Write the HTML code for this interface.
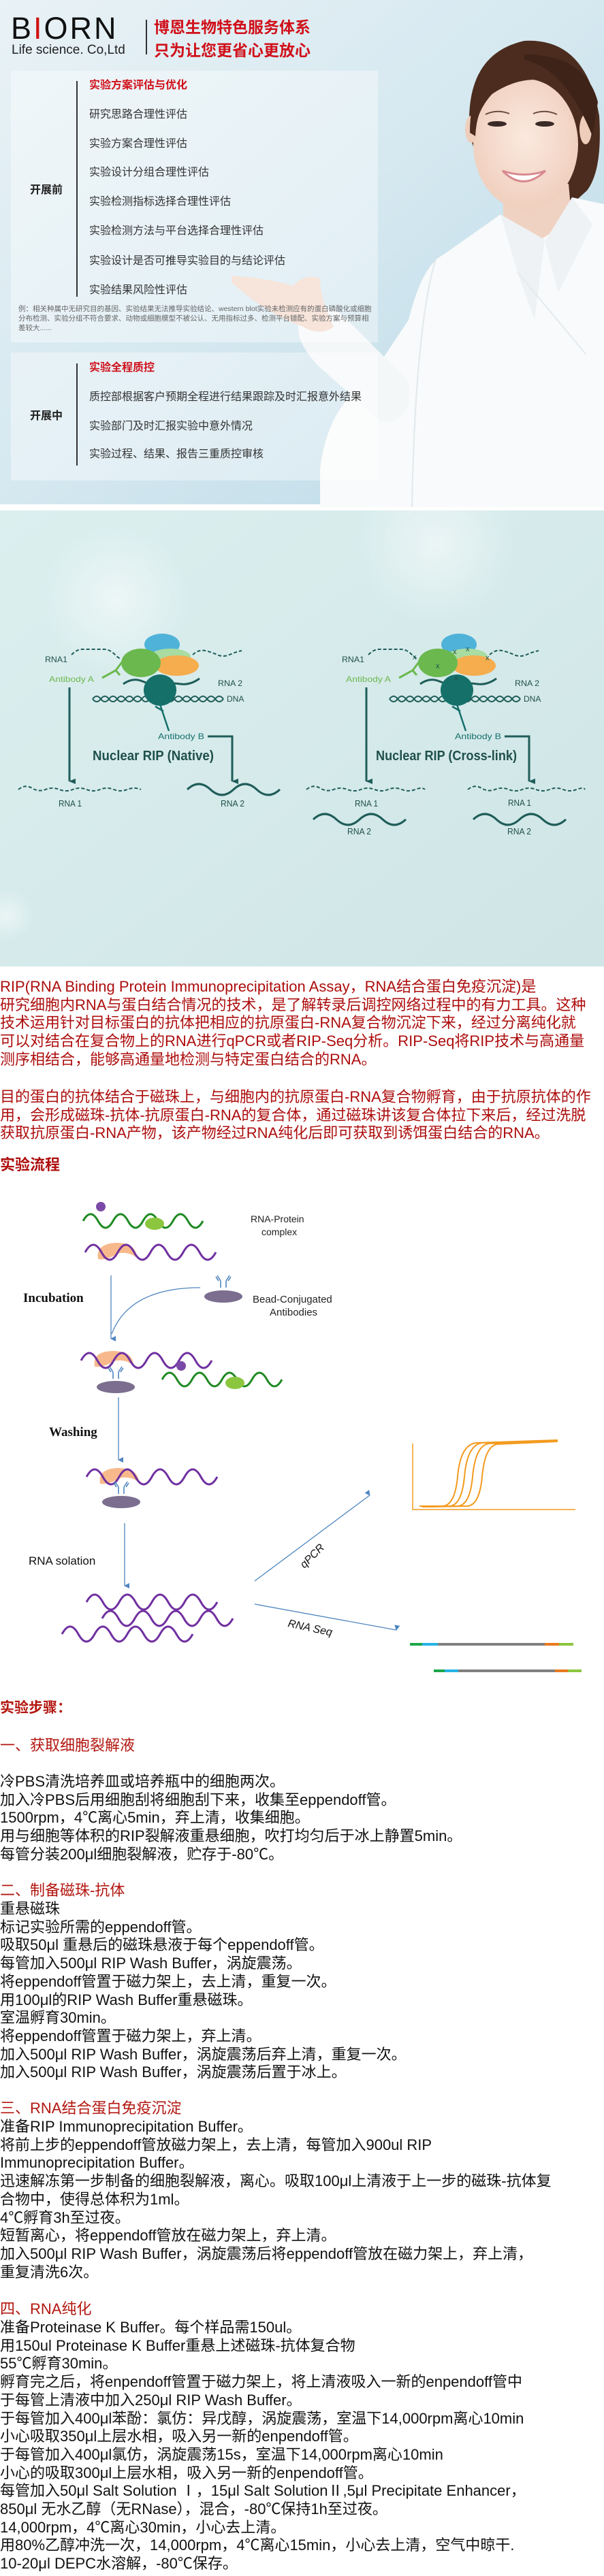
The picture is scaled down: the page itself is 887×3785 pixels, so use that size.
<!DOCTYPE html>
<html><head><meta charset="utf-8">
<style>
*{margin:0;padding:0;box-sizing:border-box}
body{width:887px;height:3785px;position:relative;background:#fff;font-family:"Liberation Sans","Noto Sans CJK SC",sans-serif;overflow:hidden}
.abs{position:absolute;white-space:nowrap}
.p{position:absolute;left:0;font-size:22px;line-height:26.7px;white-space:nowrap;color:#111}
.red{color:#ad0d0d}
.h{color:#b3160f}
.panel{position:absolute;background:rgba(255,255,255,0.38)}
.it{position:absolute;left:131px;font-size:16px;color:#333;white-space:nowrap;line-height:20px}
</style></head><body>

<!-- HEADER -->
<svg class="abs" style="left:0;top:0" width="887" height="750" viewBox="0 0 887 750">
<defs>
<linearGradient id="hb" x1="0" y1="0" x2="1" y2="1">
<stop offset="0" stop-color="#e9f2f6"/><stop offset="0.5" stop-color="#d5e8f0"/><stop offset="1" stop-color="#b9d9e6"/>
</linearGradient>
<radialGradient id="fs" cx="0.5" cy="0.45" r="0.6"><stop offset="0" stop-color="#fbe9df"/><stop offset="1" stop-color="#efcdbb"/></radialGradient>
</defs>
<rect width="887" height="741" fill="url(#hb)"/>
<rect y="741" width="887" height="9" fill="#fff"/>
<!-- hair back -->
<path d="M690,200 Q680,80 770,60 Q860,55 880,170 Q885,250 862,280 L840,300 L700,230 Z" fill="#4b2c1f"/>
<!-- neck -->
<path d="M738,270 L835,270 L842,350 L740,350 Z" fill="#f0d2c2"/>
<!-- face -->
<ellipse cx="772" cy="212" rx="77" ry="96" fill="url(#fs)"/>
<ellipse cx="692" cy="190" rx="9" ry="20" fill="#efcdbb"/>
<ellipse cx="860" cy="190" rx="9" ry="22" fill="#efcdbb"/>
<!-- hair fringe -->
<path d="M690,195 Q690,95 770,85 Q850,80 872,165 Q860,118 800,118 Q760,112 720,140 Q700,160 698,200 Z" fill="#4b2c1f"/>
<path d="M770,88 Q830,100 870,200 L878,150 Q860,80 770,80 Z" fill="#3e2318"/>
<!-- eyes -->
<ellipse cx="730" cy="182" rx="14" ry="4" fill="#3a2a25"/>
<ellipse cx="800" cy="182" rx="14" ry="4" fill="#3a2a25"/>
<path d="M713,168 Q730,160 748,167" stroke="#6b4a3a" stroke-width="2" fill="none"/>
<path d="M783,167 Q800,160 818,168" stroke="#6b4a3a" stroke-width="2" fill="none"/>
<!-- smile -->
<path d="M738,251 Q768,282 801,251 Q770,262 738,251 Z" fill="#fff" stroke="#d98a90" stroke-width="3"/>
<!-- coat -->
<path d="M470,745 L470,690 Q480,600 540,560 L600,470 Q620,390 650,375 L735,315 Q760,345 790,352 Q820,345 840,290 L887,300 L887,745 Z" fill="#f8fafb"/>
<path d="M735,315 L760,400 L785,470 L800,352 Z" fill="#eef2f4"/>
<path d="M840,290 L870,330 L820,430 L800,355 Z" fill="#eef2f4"/>
<path d="M640,380 Q610,480 605,745" stroke="#e2e8ec" stroke-width="2" fill="none"/>
<path d="M760,400 L860,520" stroke="#e4eaee" stroke-width="2" fill="none"/>
<!-- sleeve + hand -->
<path d="M440,470 Q470,430 510,470 L600,560 Q610,620 560,620 L470,540 Q430,500 440,470 Z" fill="#f4f7f8"/>
<path d="M340,405 Q400,410 430,420 Q450,400 470,410 Q470,440 490,480 Q470,495 445,480 Q390,460 340,415 Z" fill="#f2d3c3"/>
</svg>

<!-- logo -->
<div class="abs" style="left:16px;top:17px;font-size:45px;letter-spacing:3px;color:#111;line-height:50px;font-weight:400">B<span style="color:#d01010">I</span>ORN</div>
<div class="abs" style="left:17px;top:63px;font-size:19px;color:#222;line-height:22px">Life science. Co,Ltd</div>
<div class="abs" style="left:214px;top:29px;width:2px;height:51px;background:#333"></div>
<div class="abs" style="left:226px;top:24px;font-size:23px;font-weight:bold;color:#d0101a;line-height:28px;font-family:'Noto Sans CJK SC',sans-serif">博恩生物特色服务体系</div>
<div class="abs" style="left:226px;top:58px;font-size:23px;font-weight:bold;color:#d0101a;line-height:28px;font-family:'Noto Sans CJK SC',sans-serif">只为让您更省心更放心</div>

<!-- panels -->
<div class="panel" style="left:16px;top:104px;width:539px;height:399px"></div>
<div class="panel" style="left:16px;top:518px;width:539px;height:188px"></div>
<div class="abs" style="left:112px;top:119px;width:2px;height:317px;background:#333"></div>
<div class="abs" style="left:112px;top:534px;width:2px;height:150px;background:#333"></div>
<div class="abs" style="left:44px;top:265px;font-size:16px;font-weight:bold;color:#222">开展前</div>
<div class="abs" style="left:44px;top:597px;font-size:16px;font-weight:bold;color:#222">开展中</div>
<div class="it" style="top:116px;color:#d0101a;font-weight:bold">实验方案评估与优化</div>
<div class="it" style="top:159px">研究思路合理性评估</div>
<div class="it" style="top:202px">实验方案合理性评估</div>
<div class="it" style="top:244px">实验设计分组合理性评估</div>
<div class="it" style="top:287px">实验检测指标选择合理性评估</div>
<div class="it" style="top:330px">实验检测方法与平台选择合理性评估</div>
<div class="it" style="top:374px">实验设计是否可推导实验目的与结论评估</div>
<div class="it" style="top:417px">实验结果风险性评估</div>
<div class="abs" style="left:27px;top:447px;font-size:10.5px;line-height:14px;color:#666;white-space:normal;width:520px">例：相关种属中无研究目的基因、实验结果无法推导实验结论、western blot实验未检测应有的蛋白磷酸化或细胞分布检测、实验分组不符合要求、动物或细胞模型不被公认、无用指标过多、检测平台错配、实验方案与预算相差较大......</div>
<div class="it" style="top:531px;color:#d0101a;font-weight:bold">实验全程质控</div>
<div class="it" style="top:574px">质控部根据客户预期全程进行结果跟踪及时汇报意外结果</div>
<div class="it" style="top:617px">实验部门及时汇报实验中意外情况</div>
<div class="it" style="top:658px">实验过程、结果、报告三重质控审核</div>

<!-- RIP DIAGRAM -->
<svg class="abs" style="left:0;top:750px" width="887" height="670" viewBox="0 750 887 670" font-family="Liberation Sans, sans-serif">
<defs>
<linearGradient id="tb" x1="0" y1="0" x2="1" y2="1"><stop offset="0" stop-color="#dcefef"/><stop offset="1" stop-color="#cfe5e6"/></linearGradient>
<radialGradient id="sp"><stop offset="0" stop-color="#ffffff" stop-opacity="0.5"/><stop offset="1" stop-color="#ffffff" stop-opacity="0"/></radialGradient>
<marker id="ah" markerWidth="8" markerHeight="10" refX="4" refY="9" orient="auto-start-reverse" markerUnits="userSpaceOnUse" viewBox="0 0 8 10"><path d="M0,0 L8,0 L4,10 Z" fill="#1f5d59"/></marker>
<g id="left">
<path d="M105,962 q8,-8 16,-8 t16,0 t16,0 t16,8 t8,4" stroke="#1f5d59" stroke-width="2" fill="none" stroke-dasharray="5 3"/>
<path d="M283,962 q9,-8 18,-6 t18,6 t18,0 t18,-6" stroke="#1f5d59" stroke-width="2" fill="none" stroke-dasharray="5 3"/>
<path d="M136,1027 q6,-8 12,0 t12,0 t12,0 t12,0 t12,0 t12,0 t12,0 t12,0 t12,0 t12,0 t12,0 t12,0 t12,0 t12,0 t12,0 t12,0" stroke="#1f5d59" stroke-width="2" fill="none"/>
<path d="M136,1027 q6,8 12,0 t12,0 t12,0 t12,0 t12,0 t12,0 t12,0 t12,0 t12,0 t12,0 t12,0 t12,0 t12,0 t12,0 t12,0 t12,0" stroke="#1f5d59" stroke-width="2" fill="none"/>
<ellipse cx="238" cy="947" rx="26" ry="16" fill="#4fb3d9"/>
<ellipse cx="250" cy="965" rx="30" ry="12" fill="#a8dca0"/>
<ellipse cx="260" cy="978" rx="32" ry="15" fill="#f5ad4e"/>
<ellipse cx="207" cy="974" rx="29" ry="21" fill="#6bb84e"/>
<path d="M181,1005 q14,-10 28,-4 t28,4 t28,0 t28,-8" stroke="#1f5d59" stroke-width="3" fill="none"/>
<ellipse cx="235" cy="1014" rx="24" ry="23" fill="#15706a"/>
<path d="M182,969 L170,985 L150,996 M170,985 L176,992" stroke="#6bb84e" stroke-width="3" fill="none"/>
<path d="M235,1035 L248,1074 M240,1045 L228,1038" stroke="#15706a" stroke-width="2.5" fill="none"/>
<text x="66" y="973" font-size="12" fill="#1f4f4c" textLength="33" lengthAdjust="spacingAndGlyphs">RNA1</text>
<text x="72" y="1002" font-size="12" fill="#6bb84e" textLength="66" lengthAdjust="spacingAndGlyphs">Antibody A</text>
<text x="320" y="1008" font-size="12" fill="#1f4f4c" textLength="36" lengthAdjust="spacingAndGlyphs">RNA 2</text>
<text x="333" y="1031" font-size="12" fill="#1f4f4c">DNA</text>
<text x="232" y="1086" font-size="12" fill="#15706a" textLength="68" lengthAdjust="spacingAndGlyphs">Antibody B</text>
<line x1="102" y1="1010" x2="102" y2="1148" stroke="#1f5d59" stroke-width="3" marker-end="url(#ah)"/>
<path d="M305,1082 L341,1082 L341,1148" stroke="#1f5d59" stroke-width="3" fill="none" marker-end="url(#ah)"/>
</g>
</defs>
<rect x="0" y="750" width="887" height="670" fill="url(#tb)"/>
<circle cx="170" cy="880" r="110" fill="url(#sp)"/>
<circle cx="10" cy="1345" r="40" fill="url(#sp)"/>
<circle cx="640" cy="800" r="120" fill="url(#sp)"/>
<use href="#left"/>
<text x="136" y="1117" font-size="20" font-weight="bold" fill="#1f4f4c" textLength="178" lengthAdjust="spacingAndGlyphs">Nuclear RIP (Native)</text>
<path d="M27,1160 q10,-8 20,-2 t20,2 t20,0 t20,0 t20,0 t20,0 t20,0 t20,0 t20,0" stroke="#1f5d59" stroke-width="2" fill="none" stroke-dasharray="5 3"/>
<text x="86" y="1185" font-size="13" fill="#1f4f4c" textLength="34" lengthAdjust="spacingAndGlyphs">RNA 1</text>
<path d="M275,1160 q17,-16 34,0 t34,0 t34,0 t34,0" stroke="#1f5d59" stroke-width="3" fill="none"/>
<text x="324" y="1185" font-size="13" fill="#1f4f4c" textLength="35" lengthAdjust="spacingAndGlyphs">RNA 2</text>
<g transform="translate(436,0)"><use href="#left"/></g>
<g fill="#1f4f4c" font-size="11"><text x="606" y="969">x</text><text x="640" y="982">x</text><text x="665" y="961">x</text><text x="684" y="957">x</text><text x="713" y="970">x</text><text x="667" y="1000">x</text></g>
<text x="552" y="1117" font-size="20" font-weight="bold" fill="#1f4f4c" textLength="207" lengthAdjust="spacingAndGlyphs">Nuclear RIP (Cross-link)</text>
<path d="M450,1160 q10,-8 20,-2 t20,2 t20,0 t20,0 t20,0 t20,0 t20,0 t20,0 t14,0" stroke="#1f5d59" stroke-width="2" fill="none" stroke-dasharray="5 3"/>
<text x="521" y="1185" font-size="13" fill="#1f4f4c" textLength="34" lengthAdjust="spacingAndGlyphs">RNA 1</text>
<path d="M460,1204 q17,-16 34,0 t34,0 t34,0 t34,0" stroke="#1f5d59" stroke-width="3" fill="none"/>
<text x="510" y="1226" font-size="13" fill="#1f4f4c" textLength="35" lengthAdjust="spacingAndGlyphs">RNA 2</text>
<path d="M687,1160 q10,-8 20,-2 t20,2 t20,0 t20,0 t20,0 t20,0 t20,0 t20,0 t12,0" stroke="#1f5d59" stroke-width="2" fill="none" stroke-dasharray="5 3"/>
<text x="746" y="1184" font-size="13" fill="#1f4f4c" textLength="34" lengthAdjust="spacingAndGlyphs">RNA 1</text>
<path d="M695,1204 q17,-16 34,0 t34,0 t34,0 t34,0" stroke="#1f5d59" stroke-width="3" fill="none"/>
<text x="745" y="1226" font-size="13" fill="#1f4f4c" textLength="35" lengthAdjust="spacingAndGlyphs">RNA 2</text>
</svg>

<!-- INTRO TEXT -->
<div class="p red" style="top:1437px">RIP(RNA Binding Protein Immunoprecipitation Assay，RNA结合蛋白免疫沉淀)是<br>研究细胞内RNA与蛋白结合情况的技术，是了解转录后调控网络过程中的有力工具。这种<br>技术运用针对目标蛋白的抗体把相应的抗原蛋白-RNA复合物沉淀下来，经过分离纯化就<br>可以对结合在复合物上的RNA进行qPCR或者RIP-Seq分析。RIP-Seq将RIP技术与高通量<br>测序相结合，能够高通量地检测与特定蛋白结合的RNA。</div>
<div class="p red" style="top:1599px">目的蛋白的抗体结合于磁珠上，与细胞内的抗原蛋白-RNA复合物孵育，由于抗原抗体的作<br>用，会形成磁珠-抗体-抗原蛋白-RNA的复合体，通过磁珠讲该复合体拉下来后，经过洗脱<br>获取抗原蛋白-RNA产物，该产物经过RNA纯化后即可获取到诱饵蛋白结合的RNA。</div>
<div class="p red" style="top:1699px;font-weight:bold">实验流程</div>

<!-- FLOW DIAGRAM -->
<svg class="abs" style="left:0;top:1750px" width="887" height="720" viewBox="0 1750 887 720">
<defs>
<marker id="ba" markerWidth="8" markerHeight="8" refX="4" refY="7" orient="auto-start-reverse" markerUnits="userSpaceOnUse" viewBox="0 0 8 8"><path d="M0,0 L8,0 L4,8 Z" fill="#4f86c0"/></marker>
<g id="ab"><path d="M-4,-14 L-4,-4 M4,-14 L4,-4 M-4,-14 L-9,-22 M4,-14 L9,-22 M-7,-14 L-11,-20 M7,-14 L11,-20" stroke="#4f86c0" stroke-width="1.6" fill="none"/></g>
<path id="pw" d="M0,0 q12,-22 24,0 t24,0 t24,0 t24,0 t24,0 t24,0 t24,0 t24,0" stroke="#7030a0" stroke-width="3" fill="none"/>
<path id="gw" d="M0,0 q11,-20 22,0 t22,0 t22,0 t22,0 t22,0 t22,0 t22,0 t22,0" stroke="#1f8a23" stroke-width="3" fill="none"/>
</defs>
<g font-family="Liberation Sans, sans-serif">
<!-- complex -->
<use href="#gw" transform="translate(122,1794)"/>
<circle cx="148" cy="1773" r="7" fill="#7b4aa6"/>
<ellipse cx="227" cy="1798" rx="14" ry="9" fill="#8cc63f"/>
<path d="M144,1850 Q140,1828 170,1826 Q200,1826 201,1848 Q188,1838 172,1842 Q158,1852 144,1850 Z" fill="#f7b98b"/>
<use href="#pw" transform="translate(125,1840) scale(1,1)"/>
<text x="368" y="1796" font-size="14" fill="#222">RNA-Protein</text>
<text x="384" y="1815" font-size="14" fill="#222">complex</text>
<!-- incubation -->
<line x1="163" y1="1874" x2="163" y2="1967" stroke="#4f86c0" stroke-width="1.3" marker-end="url(#ba)"/>
<path d="M294,1892 Q190,1892 164,1960" stroke="#4f86c0" stroke-width="1.3" fill="none"/>
<text x="34" y="1913" font-size="19" font-weight="bold" font-family="Liberation Serif, serif" fill="#111">Incubation</text>
<ellipse cx="328" cy="1905" rx="28" ry="9" fill="#7b6e8e"/>
<use href="#ab" transform="translate(328,1896)"/>
<text x="371" y="1914" font-size="15" fill="#222">Bead-Conjugated</text>
<text x="396" y="1933" font-size="15" fill="#222">Antibodies</text>
<!-- after incubation -->
<path d="M139,2008 Q135,1986 165,1985 Q195,1985 196,2006 Q183,1996 167,2000 Q152,2010 139,2008 Z" fill="#f7b98b"/>
<use href="#pw" transform="translate(119,1999)"/>
<use href="#ab" transform="translate(170,2030)"/>
<ellipse cx="170" cy="2038" rx="28" ry="9" fill="#7b6e8e"/>
<use href="#gw" transform="translate(238,2027)"/>
<circle cx="266" cy="2007" r="7" fill="#7b4aa6"/>
<ellipse cx="345" cy="2032" rx="14" ry="9" fill="#8cc63f"/>
<!-- washing -->
<line x1="174" y1="2053" x2="174" y2="2145" stroke="#4f86c0" stroke-width="1.3" marker-end="url(#ba)"/>
<text x="72" y="2110" font-size="19" font-weight="bold" font-family="Liberation Serif, serif" fill="#111">Washing</text>
<path d="M147,2180 Q143,2158 173,2157 Q203,2157 204,2178 Q191,2168 175,2172 Q160,2182 147,2180 Z" fill="#f7b98b"/>
<use href="#pw" transform="translate(127,2170)"/>
<use href="#ab" transform="translate(178,2199)"/>
<ellipse cx="178" cy="2207" rx="28" ry="9" fill="#7b6e8e"/>
<!-- RNA isolation -->
<line x1="183" y1="2238" x2="183" y2="2330" stroke="#4f86c0" stroke-width="1.3" marker-end="url(#ba)"/>
<text x="42" y="2299" font-size="17" fill="#111">RNA solation</text>
<use href="#pw" transform="translate(127,2354)"/>
<use href="#pw" transform="translate(150,2378)"/>
<use href="#pw" transform="translate(91,2401)"/>
<!-- branches -->
<line x1="374" y1="2323" x2="543" y2="2197" stroke="#4f86c0" stroke-width="1.3" marker-end="url(#ba)"/>
<text x="0" y="0" font-size="16" font-style="italic" fill="#111" transform="translate(447,2305) rotate(-45)">qPCR</text>
<line x1="374" y1="2357" x2="582" y2="2395" stroke="#4f86c0" stroke-width="1.3" marker-end="url(#ba)"/>
<text x="0" y="0" font-size="16" font-style="italic" fill="#111" transform="translate(422,2390) rotate(12)">RNA Seq</text>
<!-- plot -->
<path d="M606,2121 L606,2218 L845,2218" stroke="#f39a1e" stroke-width="1.5" fill="none"/>
<g stroke="#f39a1e" stroke-width="2" fill="none">
<path d="M616,2213 L650,2213 Q668,2212 672,2170 Q676,2122 700,2120 L819,2116"/>
<path d="M620,2214 L660,2213 Q678,2212 682,2170 Q686,2123 708,2120 L819,2117"/>
<path d="M624,2214 L672,2213 Q690,2212 694,2170 Q698,2124 718,2121 L819,2117"/>
<path d="M628,2214 L686,2213 Q704,2212 708,2170 Q712,2125 730,2122 L819,2118"/>
</g>
<!-- seq bars -->
<g stroke-width="4">
<line x1="602" y1="2416" x2="620" y2="2416" stroke="#1fa64a"/><line x1="620" y1="2416" x2="643" y2="2416" stroke="#26b3e6"/><line x1="643" y1="2416" x2="800" y2="2416" stroke="#808080"/><line x1="800" y1="2416" x2="821" y2="2416" stroke="#e97a1f"/><line x1="821" y1="2416" x2="842" y2="2416" stroke="#8cc63f"/>
<line x1="637" y1="2455" x2="653" y2="2455" stroke="#1fa64a"/><line x1="653" y1="2455" x2="673" y2="2455" stroke="#26b3e6"/><line x1="673" y1="2455" x2="815" y2="2455" stroke="#808080"/><line x1="815" y1="2455" x2="834" y2="2455" stroke="#e97a1f"/><line x1="834" y1="2455" x2="854" y2="2455" stroke="#8cc63f"/>
</g>
</g>
</svg>

<!-- STEPS -->
<div class="p h" style="top:2497px;font-weight:bold;font-size:21px">实验步骤：</div>
<div class="p h" style="top:2552px">一、获取细胞裂解液</div>
<div class="p" style="top:2605px">冷PBS清洗培养皿或培养瓶中的细胞两次。<br>加入冷PBS后用细胞刮将细胞刮下来，收集至eppendoff管。<br>1500rpm，4℃离心5min，弃上清，收集细胞。<br>用与细胞等体积的RIP裂解液重悬细胞，吹打均匀后于冰上静置5min。<br>每管分装200μl细胞裂解液，贮存于-80℃。</div>
<div class="p h" style="top:2765px">二、制备磁珠-抗体</div>
<div class="p" style="top:2792px">重悬磁珠<br>标记实验所需的eppendoff管。<br>吸取50μl 重悬后的磁珠悬液于每个eppendoff管。<br>每管加入500μl RIP Wash Buffer，涡旋震荡。<br>将eppendoff管置于磁力架上，去上清，重复一次。<br>用100μl的RIP Wash Buffer重悬磁珠。<br>室温孵育30min。<br>将eppendoff管置于磁力架上，弃上清。<br>加入500μl RIP Wash Buffer，涡旋震荡后弃上清，重复一次。<br>加入500μl RIP Wash Buffer，涡旋震荡后置于冰上。</div>
<div class="p h" style="top:3085px">三、RNA结合蛋白免疫沉淀</div>
<div class="p" style="top:3112px">准备RIP Immunoprecipitation Buffer。<br>将前上步的eppendoff管放磁力架上，去上清，每管加入900ul RIP<br>Immunoprecipitation Buffer。<br>迅速解冻第一步制备的细胞裂解液，离心。吸取100μl上清液于上一步的磁珠-抗体复<br>合物中，使得总体积为1ml。<br>4℃孵育3h至过夜。<br>短暂离心，将eppendoff管放在磁力架上，弃上清。<br>加入500μl RIP Wash Buffer，涡旋震荡后将eppendoff管放在磁力架上，弃上清，<br>重复清洗6次。</div>
<div class="p h" style="top:3380px">四、RNA纯化</div>
<div class="p" style="top:3407px">准备Proteinase K Buffer。每个样品需150ul。<br>用150ul Proteinase K Buffer重悬上述磁珠-抗体复合物<br>55℃孵育30min。<br>孵育完之后，将enpendoff管置于磁力架上，将上清液吸入一新的enpendoff管中<br>于每管上清液中加入250μl RIP Wash Buffer。<br>于每管加入400μl苯酚：氯仿：异戊醇，涡旋震荡，室温下14,000rpm离心10min<br>小心吸取350μl上层水相，吸入另一新的enpendoff管。<br>于每管加入400μl氯仿，涡旋震荡15s，室温下14,000rpm离心10min<br>小心的吸取300μl上层水相，吸入另一新的enpendoff管。<br>每管加入50μl Salt Solution Ⅰ，15μl Salt SolutionⅡ,5μl Precipitate Enhancer，<br>850μl 无水乙醇（无RNase），混合，-80℃保持1h至过夜。<br>14,000rpm，4℃离心30min，小心去上清。<br>用80%乙醇冲洗一次，14,000rpm，4℃离心15min，小心去上清，空气中晾干.<br>10-20μl DEPC水溶解，-80℃保存。</div>
</body></html>
